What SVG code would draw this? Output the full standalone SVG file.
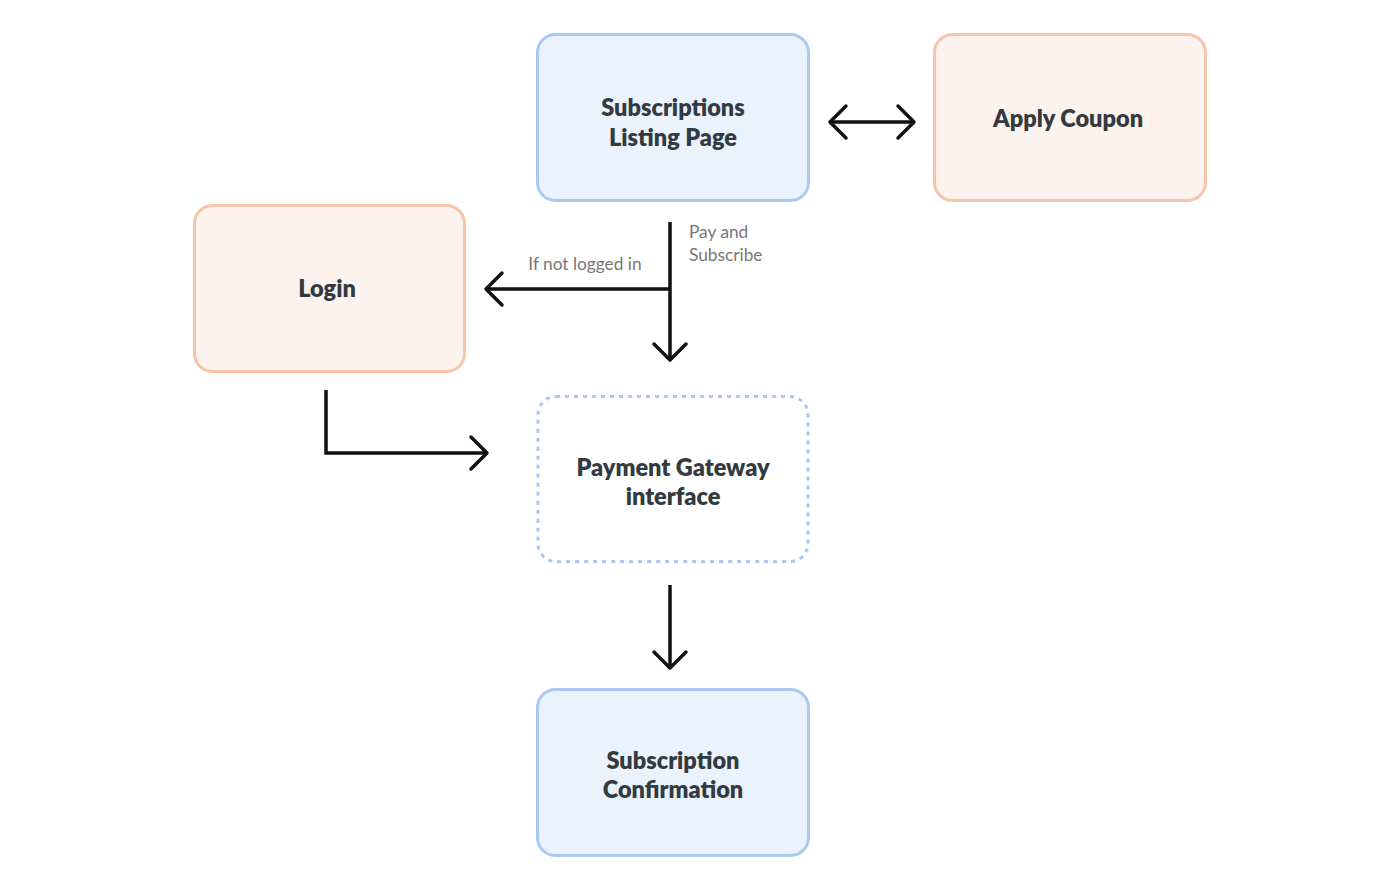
<svg xmlns="http://www.w3.org/2000/svg" width="1400" height="889" viewBox="0 0 1400 889">
<style>
.blue{fill:#e9f2fd;stroke:#a9c9f0;stroke-width:3}
.orange{fill:#fdf3ee;stroke:#f6c4a9;stroke-width:3}
.dotted{fill:#ffffff;stroke:#a9c9f0;stroke-width:3;stroke-dasharray:4 5}
.t{font-family:Lato,"Open Sans","Liberation Sans",sans-serif;font-weight:800;font-size:23.5px;fill:#333a40;text-anchor:middle}
.l{font-family:Lato,"Open Sans","Liberation Sans",sans-serif;font-size:17.3px;fill:#777}
.c{fill:none;stroke:#111;stroke-width:3.5}
</style>
<defs>
<marker id="ah" viewBox="0 0 40 40" refX="34" refY="20" markerWidth="40" markerHeight="40" markerUnits="userSpaceOnUse" orient="auto-start-reverse">
<path d="M18,4 L34,20 L18,36" fill="none" stroke="#111" stroke-width="3.5" stroke-linecap="round" stroke-linejoin="round"/>
</marker>
</defs>
<rect width="1400" height="889" fill="#ffffff"/>
<g id="subscriptions-listing">
<rect class="blue" x="537.5" y="34.5" width="271" height="166" rx="18"/>
<text class="t" x="673" y="116">Subscriptions</text>
<text class="t" x="673" y="146">Listing Page</text>
</g>
<g id="apply-coupon">
<rect class="orange" x="934.5" y="34.5" width="271" height="166" rx="18"/>
<text class="t" x="1068" y="127">Apply Coupon</text>
</g>
<g id="login">
<rect class="orange" x="194.5" y="205.5" width="270" height="166" rx="18"/>
<text class="t" x="327" y="297">Login</text>
</g>
<g id="payment-gateway">
<rect class="dotted" x="538" y="396.5" width="270" height="165" rx="18"/>
<text class="t" x="673" y="476">Payment Gateway</text>
<text class="t" x="673" y="505">interface</text>
</g>
<g id="subscription-confirmation">
<rect class="blue" x="537.5" y="689.5" width="271" height="166" rx="18"/>
<text class="t" x="673" y="769">Subscription</text>
<text class="t" x="673" y="798">Confirmation</text>
</g>
<g id="connectors">
<line class="c" x1="830" y1="122" x2="914" y2="122" marker-start="url(#ah)" marker-end="url(#ah)"/>
<line class="c" x1="670" y1="222" x2="670" y2="360" marker-end="url(#ah)"/>
<line class="c" x1="670" y1="289" x2="486" y2="289" marker-end="url(#ah)"/>
<polyline class="c" points="326,390 326,453 487,453" marker-end="url(#ah)"/>
<line class="c" x1="670" y1="585" x2="670" y2="668" marker-end="url(#ah)"/>
<text class="l" x="689" y="238">Pay and</text>
<text class="l" x="689" y="261">Subscribe</text>
<text class="l" x="585" y="270" text-anchor="middle">If not logged in</text>
</g>
</svg>
